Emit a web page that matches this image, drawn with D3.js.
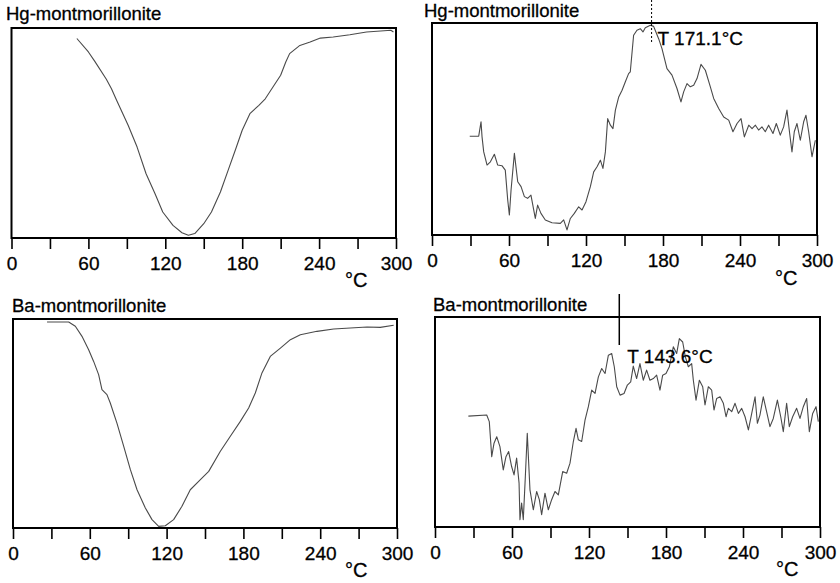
<!DOCTYPE html>
<html>
<head>
<meta charset="utf-8">
<script src="https://cdn.jsdelivr.net/npm/d3@7"></script>
<style>
  body { margin: 0; background: #fff; }
  svg { display: block; font-family: "Liberation Sans", Arial, sans-serif; }
  .frame { fill: none; stroke: #000; stroke-width: 2; }
  .curve { fill: none; stroke: #4a4a4a; stroke-width: 1.1; stroke-linejoin: round; }
  .tick line { stroke: #000; stroke-width: 1.6; }
  .domain { display: none; }
  .tick text, .lbl { fill: #000; stroke: #000; stroke-width: 0.3; }
</style>
</head>
<body>
<svg id="chart" width="840" height="583"></svg>
<script>
"use strict";

// x axis (temperature, °C)
const tickValues = [0, 30, 60, 90, 120, 150, 180, 210, 240, 270, 300];
const labelValues = [0, 60, 120, 180, 240, 300];
const titles = ["Hg-montmorillonite", "Hg-montmorillonite", "Ba-montmorillonite", "Ba-montmorillonite"];

// Hg-montmorillonite, left curve (relative units)
const hgLeftT = [51, 60, 65, 74, 78, 82, 91, 98, 105, 112, 118, 126, 133, 138, 143, 150, 156, 163, 169, 175,
  180, 186, 193, 198, 204, 210, 214, 217, 225, 233, 241, 251, 264, 277, 288, 296, 298];
const hgLeftV = [95, 88.6, 84.1, 75.6, 71.1, 65.6, 53.7, 43.3, 30.6, 21.1, 12.4, 6.0, 2.5, 1.3, 2.1, 6.8, 12.4, 21.9, 32.2, 42.5,
  51.3, 59.2, 63.2, 66.3, 71.9, 77.5, 83.8, 87.8, 91.7, 93.3, 95.2, 95.7, 96.8, 98.1, 98.6, 98.9, 98.1];

// Hg-montmorillonite, right curve
const hgRightT = [29.4, 36.4, 38.2, 39.0, 40.3, 42.9, 45.5, 48.6, 51.2, 54.5, 57.1, 59.0, 60.3, 61.6, 64.2, 66.8, 69.4, 72.0,
  74.5, 77.1, 80.5, 82.3, 84.9, 88.3, 93.5, 100.0, 102.6, 105.2, 107.8, 110.9, 114.3, 116.9, 120.0, 123.4, 126.0, 128.6,
  131.2, 133.2, 135.1, 136.9, 139.0, 141.0, 142.9, 145.5, 148.1, 150.6, 153.2, 154.5, 157.1, 159.7, 162.3, 164.4, 166.2,
  170.1, 172.7, 174.0, 176.6, 179.2, 183.1, 187.0, 190.9, 194.0, 196.1, 198.7, 201.3, 203.9, 206.5, 209.6, 213.0, 216.9,
  219.5, 223.4, 227.3, 231.2, 234.5, 237.7, 240.8, 243.4, 246.8, 249.4, 252.0, 254.5, 257.1, 259.7, 262.3, 265.7, 268.3,
  271.4, 274.0, 276.6, 278.7, 280.5, 282.3, 284.4, 287.0, 289.6, 291.4, 293.5, 296.1, 298.7];
const hgRightV = [46.6, 46.6, 53.4, 46.3, 39.2, 33.0, 34.5, 38.1, 33.0, 32.7, 30.6, 16.5, 9.4, 21.2, 38.5, 25.1, 22.8, 18.1,
  17.3, 18.8, 7.8, 14.1, 10.2, 7.1, 5.8, 5.5, 7.1, 2.4, 7.8, 10.2, 13.3, 11.8, 15.7, 22.8, 29.8, 32.2,
  35.3, 31.4, 39.2, 54.9, 51.8, 50.2, 58.9, 65.1, 68.3, 72.2, 76.1, 76.9, 94.2, 96.6, 97.3, 95.8, 97.8,
  98.9, 98.4, 96.5, 92.6, 87.9, 78.5, 75.4, 69.1, 62.8, 67.5, 71.4, 69.9, 70.6, 73.8, 80.5, 77.7, 69.9,
  64.4, 59.7, 55.7, 54.2, 48.7, 52.6, 54.9, 46.3, 51.8, 50.2, 51.8, 49.5, 51.0, 48.7, 51.8, 47.9, 52.6,
  47.1, 51.0, 58.9, 47.9, 39.2, 48.7, 52.6, 44.7, 53.4, 56.5, 48.7, 36.9, 44.7];

// Ba-montmorillonite, left curve
const baLeftT = [26.6, 43.5, 48.7, 53.9, 59.1, 63.0, 66.9, 69.5, 73.4, 76.0, 81.2, 86.5, 91.7, 96.9, 103.4, 108.6, 113.8,
  119.0, 125.5, 132.0, 138.5, 146.4, 152.9, 162.0, 169.8, 177.6, 184.1, 189.3, 194.5, 201.0, 208.9, 216.7, 224.5, 237.5,
  250.5, 263.5, 276.6, 286.9, 297.4];
const baLeftV = [98.6, 98.6, 96.5, 91.7, 85.3, 79.7, 73.4, 66.2, 63.8, 59.8, 50.2, 39.1, 27.9, 18.3, 9.6, 4.0, 0.8,
  1.1, 4.0, 10.4, 18.3, 23.1, 27.1, 36.7, 43.9, 51.0, 57.4, 64.6, 74.2, 82.1, 86.1, 90.1, 92.5, 94.1,
  95.2, 95.7, 96.2, 96.0, 97.0];

// Ba-montmorillonite, right curve
const baRightT = [26.0, 40.3, 42.3, 44.2, 46.0, 48.1, 50.6, 53.2, 55.3, 57.4, 59.7, 61.6, 63.6, 65.5, 66.2, 67.5, 68.8,
  70.4, 71.9, 74.0, 76.6, 79.2, 81.3, 83.1, 85.7, 88.3, 90.9, 93.5, 96.1, 99.5, 102.6, 105.2, 107.8, 109.9, 111.7,
  114.3, 116.9, 119.5, 122.1, 124.7, 127.3, 129.9, 132.5, 135.1, 137.7, 139.7, 141.6, 144.2, 147.3, 149.9, 152.5,
  154.5, 157.1, 159.7, 162.3, 164.9, 167.5, 170.1, 172.7, 175.3, 177.4, 180.0, 182.6, 185.7, 188.3, 190.4, 193.0,
  195.1, 197.4, 200.0, 201.3, 203.4, 206.0, 208.6, 210.4, 213.0, 215.6, 217.4, 219.5, 222.1, 224.7, 226.8, 228.6,
  231.2, 233.8, 236.4, 239.0, 241.6, 244.2, 246.8, 249.4, 251.2, 253.2, 255.8, 258.4, 261.0, 263.6, 266.8, 269.4,
  271.4, 274.0, 276.1, 278.7, 281.8, 284.4, 287.0, 289.6, 291.7, 294.3, 296.9, 298.7];
const baRightV = [52.8, 53.3, 50.2, 33.5, 39.9, 43.0, 38.3, 27.2, 33.5, 35.9, 28.8, 24.8, 32.8, 20.9, 3.5, 11.4, 3.5,
  24.1, 44.6, 17.7, 8.2, 16.9, 13.0, 5.9, 16.1, 8.2, 13.0, 16.9, 15.3, 26.4, 25.6, 30.4, 40.7, 47.0, 41.5,
  40.7, 50.9, 57.3, 65.2, 63.6, 71.5, 75.5, 73.1, 81.8, 82.6, 76.3, 66.8, 62.8, 63.6, 67.6, 69.1,
  76.6, 70.7, 77.8, 69.9, 74.7, 69.9, 70.7, 72.3, 65.2, 72.3, 73.1, 76.3, 85.8, 82.6, 89.7, 88.1,
  81.0, 76.3, 77.8, 69.9, 60.4, 69.9, 66.8, 58.1, 66.8, 65.2, 55.7, 61.2, 62.0, 58.9, 52.5, 56.5,
  54.9, 58.9, 54.1, 56.5, 52.5, 46.2, 54.1, 62.0, 49.4, 53.3, 62.0, 54.9, 47.8, 51.7, 60.4, 52.5,
  45.4, 58.9, 47.8, 52.5, 56.5, 51.7, 57.3, 61.2, 45.4, 54.1, 57.3, 50.2];

// peak markers on the right-hand curves
const peakHg = 171.1;
const peakBa = 143.6;

const svg = d3.select("#chart");

const panels = [
  { x0: 11.5, x1: 396, y0: 28, y1: 238, t: hgLeftT, v: hgLeftV, title: titles[0], tx: 6, ty: 20, cx: 345, cy: 287 },
  { x0: 432, x1: 817, y0: 23, y1: 235, t: hgRightT, v: hgRightV, title: titles[1], tx: 424, ty: 17, cx: 775, cy: 285 },
  { x0: 13, x1: 397, y0: 319, y1: 528, t: baLeftT, v: baLeftV, title: titles[2], tx: 12, ty: 312, cx: 345, cy: 577 },
  { x0: 435, x1: 820, y0: 317, y1: 527, t: baRightT, v: baRightV, title: titles[3], tx: 433, ty: 311, cx: 776, cy: 576 }
];

panels.forEach(p => {
  const x = d3.scaleLinear().domain([0, 300]).range([p.x0, p.x1]);
  const y = d3.scaleLinear().domain([0, 100]).range([p.y1, p.y0]);
  p.x = x;

  const g = svg.append("g");

  g.append("g")
    .attr("transform", `translate(0,${p.y1})`)
    .call(d3.axisBottom(x)
      .tickValues(tickValues)
      .tickSize(11)
      .tickPadding(7.5)
      .tickFormat(d => labelValues.includes(d) ? d : ""))
    .call(a => a.selectAll("text").attr("font-size", 19).attr("font-family", null));

  g.append("rect")
    .attr("class", "frame")
    .attr("x", p.x0).attr("y", p.y0)
    .attr("width", p.x1 - p.x0).attr("height", p.y1 - p.y0);

  const line = d3.line()
    .x((d, i) => x(p.t[i]))
    .y(d => y(d));

  g.append("path")
    .attr("class", "curve")
    .attr("d", line(p.v));

  g.append("text").attr("class", "lbl")
    .attr("x", p.tx).attr("y", p.ty)
    .attr("font-size", 18.5)
    .text(p.title);

  g.append("text").attr("class", "lbl")
    .attr("x", p.cx).attr("y", p.cy)
    .attr("font-size", 20)
    .text("°C");
});

// Hg peak: dotted marker line
const xHg = panels[1].x(peakHg);
svg.append("line")
  .attr("x1", xHg).attr("x2", xHg)
  .attr("y1", 0).attr("y2", 42)
  .attr("stroke", "#000").attr("stroke-width", 1)
  .attr("stroke-dasharray", "2,2");
svg.append("text").attr("class", "lbl")
  .attr("x", xHg + 6).attr("y", 45)
  .attr("font-size", 19)
  .text(`T ${peakHg}°C`);

// Ba peak: solid marker line
const xBa = panels[3].x(peakBa);
svg.append("line")
  .attr("x1", xBa).attr("x2", xBa)
  .attr("y1", 294).attr("y2", 345)
  .attr("stroke", "#000").attr("stroke-width", 1.5);
svg.append("text").attr("class", "lbl")
  .attr("x", xBa + 8).attr("y", 363)
  .attr("font-size", 19)
  .text(`T ${peakBa}°C`);
</script>
</body>
</html>
